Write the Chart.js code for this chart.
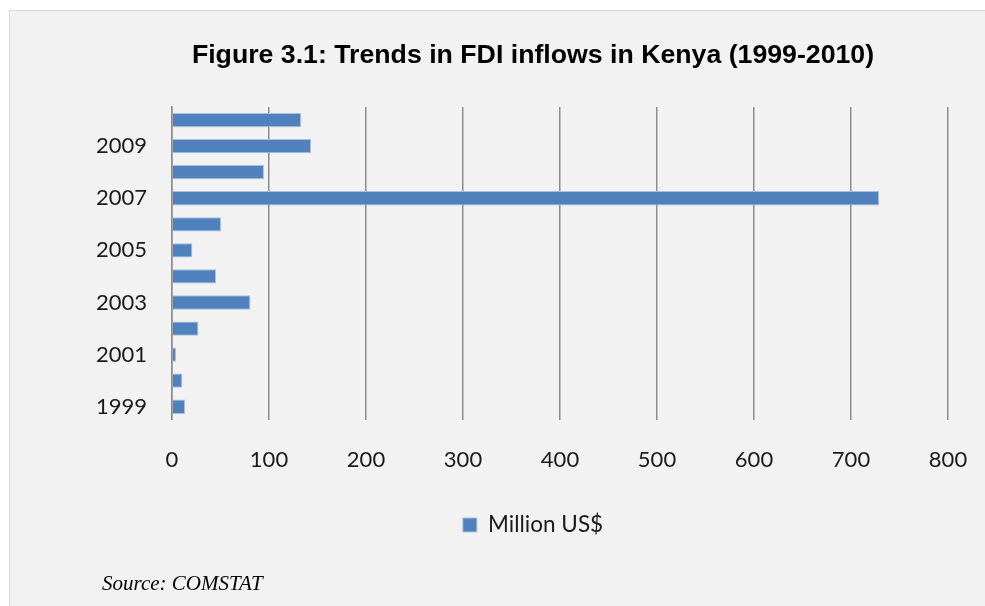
<!DOCTYPE html>
<html><head><meta charset="utf-8">
<script src="https://cdn.jsdelivr.net/npm/chart.js@4"></script>
<style>html,body{margin:0;padding:0;background:#fff;}#wrap{width:985px;height:606px;}</style>
</head><body><div id="wrap"><canvas id="c" width="985" height="606"></canvas></div>
<script>
const years = ['1999','2000','2001','2002','2003','2004','2005','2006','2007','2008','2009','2010'];
const millionUSD = [13.4, 10.7, 4.1, 27.2, 80.8, 45.4, 21.0, 50.5, 729, 94.8, 143.3, 133];
const xTicks = [0,100,200,300,400,500,600,700,800];
const titleText = 'Figure 3.1: Trends in FDI inflows in Kenya (1999-2010)';
const seriesName = 'Million US$';
const sourceText = 'Source: COMSTAT';

const bgPlugin = {
  id: 'bg',
  beforeDraw(chart) {
    const ctx = chart.ctx;
    ctx.save();
    ctx.fillStyle = '#ffffff';
    ctx.fillRect(0, 0, chart.width, chart.height);
    ctx.fillStyle = '#f2f2f2';
    ctx.fillRect(9.5, 10.5, chart.width, chart.height);
    ctx.strokeStyle = '#d9d9d9';
    ctx.lineWidth = 1;
    ctx.strokeRect(9.5, 10.5, chart.width, chart.height);
    ctx.restore();
  },
  afterDraw(chart) {
    const ctx = chart.ctx;
    ctx.save();
    ctx.fillStyle = '#000';
    ctx.font = 'italic 21px "Liberation Serif", serif';
    ctx.textBaseline = 'alphabetic';
    ctx.fillText(sourceText, 102, 590);
    ctx.restore();
  }
};

new Chart(document.getElementById('c'), {
  type: 'bar',
  data: {
    labels: years,
    datasets: [{
      label: seriesName,
      data: millionUSD,
      backgroundColor: '#4f81bd',
      borderColor: '#a9c0df',
      borderWidth: 1,
      barPercentage: 0.55,
      categoryPercentage: 1
    }]
  },
  options: {
    indexAxis: 'y',
    responsive: false,
    animation: false,
    layout: { padding: { left: 118, right: 37, top: 10, bottom: 59.75 } },
    plugins: {
      title: {
        display: true,
        text: titleText,
        color: '#000',
        font: { family: '"Liberation Sans", Arial, sans-serif', size: 26.7, weight: 'bold' },
        padding: { top: 29.5, bottom: 35.5 }
      },
      legend: {
        position: 'bottom',
        labels: {
          color: '#1a1a1a',
          font: { family: 'Lato, "Open Sans", sans-serif', size: 22.5 },
          boxWidth: 14, boxHeight: 14,
          padding: 40.75
        }
      },
      tooltip: { enabled: false }
    },
    scales: {
      x: {
        min: 0, max: 800,
        afterBuildTicks(scale) { scale.ticks = xTicks.map(v => ({ value: v })); },
        grid: { color: '#8c8c8c', lineWidth: 1.5, drawTicks: true, tickLength: 26.8, tickColor: 'rgba(0,0,0,0)' },
        border: { display: false },
        ticks: {
          color: '#1a1a1a',
          font: { family: 'Lato, "Open Sans", sans-serif', size: 22 },
          padding: 0,
          maxRotation: 0
        }
      },
      y: {
        reverse: true,
        afterFit(scale) { scale.width = 54; },
        grid: { display: false, drawTicks: false },
        border: { display: true, color: '#8c8c8c', width: 1.5 },
        ticks: {
          autoSkip: false,
          mirror: true,
          color: '#1a1a1a',
          font: { family: 'Lato, "Open Sans", sans-serif', size: 22 },
          padding: -76,
          callback(value, index) { return index % 2 === 0 ? years[index] : ''; }
        }
      }
    }
  },
  plugins: [bgPlugin]
});
</script></body></html>
